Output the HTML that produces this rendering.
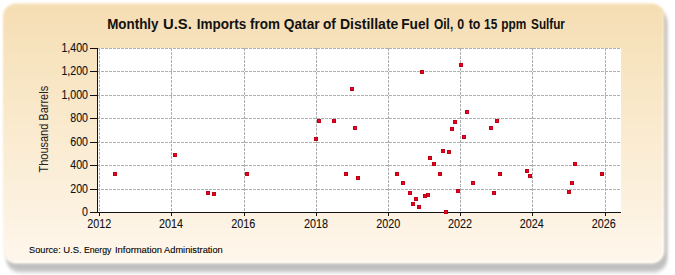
<!DOCTYPE html>
<html><head><meta charset="utf-8"><style>
html,body{margin:0;padding:0;background:#fff;width:675px;height:275px;overflow:hidden}
svg{display:block}
.g{stroke:#b0b0b0;stroke-width:1;stroke-dasharray:3 1;shape-rendering:crispEdges}
.a{stroke:#111;stroke-width:1;shape-rendering:crispEdges}
.t{font-family:"Liberation Sans",sans-serif;font-size:12px;fill:#111;stroke:#111;stroke-width:0.1}
.m{fill:#c00014}
.mi{fill:#ea0020}
.so{font-family:"Liberation Sans",sans-serif;font-size:9.2px;fill:#000;stroke:#000;stroke-width:0.1}
.ti{font-family:"Liberation Sans",sans-serif;font-size:13.333px;font-weight:bold;fill:#111}
</style></head><body>
<svg width="675" height="275">
<defs>
<linearGradient id="bg" x1="0" y1="0" x2="0" y2="1">
<stop offset="0" stop-color="#f5deb3"/>
<stop offset="1" stop-color="#fff7ec"/>
</linearGradient>
<filter id="sh" x="-5%" y="-5%" width="110%" height="115%"><feGaussianBlur stdDeviation="1.4 2.3"/></filter>
<filter id="pb" x="-1%" y="-1%" width="102%" height="102%"><feGaussianBlur stdDeviation="0.9"/></filter>
<linearGradient id="hl" gradientUnits="userSpaceOnUse" x1="0" y1="0" x2="0" y2="275"><stop offset="0" stop-color="#fff" stop-opacity="0.15"/><stop offset="1" stop-color="#fff" stop-opacity="0.6"/></linearGradient>
</defs>
<rect x="6" y="9" width="661.5" height="263" rx="14" fill="#c0c0c0" filter="url(#sh)"/>
<rect x="3" y="3.5" width="661.5" height="260" rx="13" fill="url(#bg)" filter="url(#pb)"/>
<path d="M662.5 12 L662.5 250 A12 12 0 0 1 650.5 262 L14 262" fill="none" stroke="url(#hl)" stroke-width="1.6"/>
<rect x="98" y="48" width="523" height="164" fill="#fff"/>
<text transform="translate(107.20,28.7) scale(1.005,1.05)" class="ti">Monthly</text>
<text transform="translate(162.91,28.7) scale(1.114,1.05)" class="ti">U.S.</text>
<text transform="translate(196.79,28.7) scale(1.014,1.05)" class="ti">Imports</text>
<text transform="translate(249.96,28.7) scale(1.012,1.05)" class="ti">from</text>
<text transform="translate(283.75,28.7) scale(1.032,1.05)" class="ti">Qatar</text>
<text transform="translate(322.96,28.7) scale(1.019,1.05)" class="ti">of</text>
<text transform="translate(339.95,28.7) scale(1.051,1.05)" class="ti">Distillate</text>
<text transform="translate(401.17,28.7) scale(1.029,1.05)" class="ti">Fuel</text>
<text transform="translate(434.02,28.7) scale(0.894,1.05)" class="ti">Oil,</text>
<text transform="translate(457.30,28.7) scale(0.932,1.05)" class="ti">0</text>
<text transform="translate(468.65,28.7) scale(0.924,1.05)" class="ti">to</text>
<text transform="translate(484.06,28.7) scale(0.890,1.05)" class="ti">15</text>
<text transform="translate(501.33,28.7) scale(0.892,1.05)" class="ti">ppm</text>
<text transform="translate(531.05,28.7) scale(0.881,1.05)" class="ti">Sulfur</text>
<text transform="translate(48.1,129.2) rotate(-90) scale(0.915,1)" text-anchor="middle" class="t" style="stroke:none;fill:#222">Thousand Barrels</text>
<text transform="translate(29.09,253) scale(0.998,1.0)" class="so">Source:</text>
<text transform="translate(63.16,253) scale(1.033,1.0)" class="so">U.S.</text>
<text transform="translate(83.88,253) scale(0.945,1.0)" class="so">Energy</text>
<text transform="translate(114.93,253) scale(1.025,1.0)" class="so">Information</text>
<text transform="translate(164.08,253) scale(1.008,1.0)" class="so">Administration</text>
<line x1="99.5" y1="48" x2="99.5" y2="212" class="g"/>
<line x1="171.5" y1="48" x2="171.5" y2="212" class="g"/>
<line x1="244.5" y1="48" x2="244.5" y2="212" class="g"/>
<line x1="316.5" y1="48" x2="316.5" y2="212" class="g"/>
<line x1="388.5" y1="48" x2="388.5" y2="212" class="g"/>
<line x1="460.5" y1="48" x2="460.5" y2="212" class="g"/>
<line x1="532.5" y1="48" x2="532.5" y2="212" class="g"/>
<line x1="605.5" y1="48" x2="605.5" y2="212" class="g"/>
<line x1="97" y1="48.5" x2="621" y2="48.5" class="g"/>
<line x1="97" y1="71.5" x2="621" y2="71.5" class="g"/>
<line x1="97" y1="95.5" x2="621" y2="95.5" class="g"/>
<line x1="97" y1="118.5" x2="621" y2="118.5" class="g"/>
<line x1="97" y1="142.5" x2="621" y2="142.5" class="g"/>
<line x1="97" y1="165.5" x2="621" y2="165.5" class="g"/>
<line x1="97" y1="189.5" x2="621" y2="189.5" class="g"/>
<line x1="97.5" y1="48" x2="97.5" y2="213" class="a"/>
<line x1="97" y1="212.5" x2="621" y2="212.5" class="a"/>
<line x1="90" y1="48.5" x2="97" y2="48.5" class="a"/>
<line x1="90" y1="71.5" x2="97" y2="71.5" class="a"/>
<line x1="90" y1="95.5" x2="97" y2="95.5" class="a"/>
<line x1="90" y1="118.5" x2="97" y2="118.5" class="a"/>
<line x1="90" y1="142.5" x2="97" y2="142.5" class="a"/>
<line x1="90" y1="165.5" x2="97" y2="165.5" class="a"/>
<line x1="90" y1="189.5" x2="97" y2="189.5" class="a"/>
<line x1="90" y1="212.5" x2="97" y2="212.5" class="a"/>
<line x1="99.5" y1="213" x2="99.5" y2="216" class="a"/>
<line x1="171.5" y1="213" x2="171.5" y2="216" class="a"/>
<line x1="244.5" y1="213" x2="244.5" y2="216" class="a"/>
<line x1="316.5" y1="213" x2="316.5" y2="216" class="a"/>
<line x1="388.5" y1="213" x2="388.5" y2="216" class="a"/>
<line x1="460.5" y1="213" x2="460.5" y2="216" class="a"/>
<line x1="532.5" y1="213" x2="532.5" y2="216" class="a"/>
<line x1="605.5" y1="213" x2="605.5" y2="216" class="a"/>
<text transform="translate(88.0,52.4) scale(0.885,1)" text-anchor="end" class="t">1,400</text>
<text transform="translate(88.0,75.4) scale(0.885,1)" text-anchor="end" class="t">1,200</text>
<text transform="translate(88.0,99.4) scale(0.885,1)" text-anchor="end" class="t">1,000</text>
<text transform="translate(88.0,122.4) scale(0.885,1)" text-anchor="end" class="t">800</text>
<text transform="translate(88.0,146.4) scale(0.885,1)" text-anchor="end" class="t">600</text>
<text transform="translate(88.0,169.4) scale(0.885,1)" text-anchor="end" class="t">400</text>
<text transform="translate(88.0,193.4) scale(0.885,1)" text-anchor="end" class="t">200</text>
<text transform="translate(88.0,216.4) scale(0.885,1)" text-anchor="end" class="t">0</text>
<text transform="translate(99.20,227.5) scale(0.9,1)" text-anchor="middle" class="t">2012</text>
<text transform="translate(171.05,227.5) scale(0.9,1)" text-anchor="middle" class="t">2014</text>
<text transform="translate(243.15,227.5) scale(0.9,1)" text-anchor="middle" class="t">2016</text>
<text transform="translate(316.05,227.5) scale(0.9,1)" text-anchor="middle" class="t">2018</text>
<text transform="translate(388.25,227.5) scale(0.9,1)" text-anchor="middle" class="t">2020</text>
<text transform="translate(460.00,227.5) scale(0.9,1)" text-anchor="middle" class="t">2022</text>
<text transform="translate(531.85,227.5) scale(0.9,1)" text-anchor="middle" class="t">2024</text>
<text transform="translate(603.65,227.5) scale(0.9,1)" text-anchor="middle" class="t">2026</text>
<rect x="113" y="172" width="4" height="4" class="m"/><rect x="114" y="173" width="2" height="2" class="mi"/>
<rect x="173" y="153" width="4" height="4" class="m"/><rect x="174" y="154" width="2" height="2" class="mi"/>
<rect x="206" y="191" width="4" height="4" class="m"/><rect x="207" y="192" width="2" height="2" class="mi"/>
<rect x="212" y="192" width="4" height="4" class="m"/><rect x="213" y="193" width="2" height="2" class="mi"/>
<rect x="245" y="172" width="4" height="4" class="m"/><rect x="246" y="173" width="2" height="2" class="mi"/>
<rect x="317" y="119" width="4" height="4" class="m"/><rect x="318" y="120" width="2" height="2" class="mi"/>
<rect x="332" y="119" width="4" height="4" class="m"/><rect x="333" y="120" width="2" height="2" class="mi"/>
<rect x="314" y="137" width="4" height="4" class="m"/><rect x="315" y="138" width="2" height="2" class="mi"/>
<rect x="350" y="87" width="4" height="4" class="m"/><rect x="351" y="88" width="2" height="2" class="mi"/>
<rect x="353" y="126" width="4" height="4" class="m"/><rect x="354" y="127" width="2" height="2" class="mi"/>
<rect x="344" y="172" width="4" height="4" class="m"/><rect x="345" y="173" width="2" height="2" class="mi"/>
<rect x="356" y="176" width="4" height="4" class="m"/><rect x="357" y="177" width="2" height="2" class="mi"/>
<rect x="395" y="172" width="4" height="4" class="m"/><rect x="396" y="173" width="2" height="2" class="mi"/>
<rect x="401" y="181" width="4" height="4" class="m"/><rect x="402" y="182" width="2" height="2" class="mi"/>
<rect x="408" y="191" width="4" height="4" class="m"/><rect x="409" y="192" width="2" height="2" class="mi"/>
<rect x="414" y="197" width="4" height="4" class="m"/><rect x="415" y="198" width="2" height="2" class="mi"/>
<rect x="411" y="202" width="4" height="4" class="m"/><rect x="412" y="203" width="2" height="2" class="mi"/>
<rect x="417" y="205" width="4" height="4" class="m"/><rect x="418" y="206" width="2" height="2" class="mi"/>
<rect x="423" y="194" width="4" height="4" class="m"/><rect x="424" y="195" width="2" height="2" class="mi"/>
<rect x="426" y="193" width="4" height="4" class="m"/><rect x="427" y="194" width="2" height="2" class="mi"/>
<rect x="428" y="156" width="4" height="4" class="m"/><rect x="429" y="157" width="2" height="2" class="mi"/>
<rect x="432" y="162" width="4" height="4" class="m"/><rect x="433" y="163" width="2" height="2" class="mi"/>
<rect x="438" y="172" width="4" height="4" class="m"/><rect x="439" y="173" width="2" height="2" class="mi"/>
<rect x="441" y="149" width="4" height="4" class="m"/><rect x="442" y="150" width="2" height="2" class="mi"/>
<rect x="447" y="150" width="4" height="4" class="m"/><rect x="448" y="151" width="2" height="2" class="mi"/>
<rect x="444" y="210" width="4" height="4" class="m"/><rect x="445" y="211" width="2" height="2" class="mi"/>
<rect x="456" y="189" width="4" height="4" class="m"/><rect x="457" y="190" width="2" height="2" class="mi"/>
<rect x="471" y="181" width="4" height="4" class="m"/><rect x="472" y="182" width="2" height="2" class="mi"/>
<rect x="465" y="110" width="4" height="4" class="m"/><rect x="466" y="111" width="2" height="2" class="mi"/>
<rect x="453" y="120" width="4" height="4" class="m"/><rect x="454" y="121" width="2" height="2" class="mi"/>
<rect x="450" y="127" width="4" height="4" class="m"/><rect x="451" y="128" width="2" height="2" class="mi"/>
<rect x="462" y="135" width="4" height="4" class="m"/><rect x="463" y="136" width="2" height="2" class="mi"/>
<rect x="459" y="63" width="4" height="4" class="m"/><rect x="460" y="64" width="2" height="2" class="mi"/>
<rect x="420" y="70" width="4" height="4" class="m"/><rect x="421" y="71" width="2" height="2" class="mi"/>
<rect x="495" y="119" width="4" height="4" class="m"/><rect x="496" y="120" width="2" height="2" class="mi"/>
<rect x="489" y="126" width="4" height="4" class="m"/><rect x="490" y="127" width="2" height="2" class="mi"/>
<rect x="498" y="172" width="4" height="4" class="m"/><rect x="499" y="173" width="2" height="2" class="mi"/>
<rect x="492" y="191" width="4" height="4" class="m"/><rect x="493" y="192" width="2" height="2" class="mi"/>
<rect x="525" y="169" width="4" height="4" class="m"/><rect x="526" y="170" width="2" height="2" class="mi"/>
<rect x="528" y="174" width="4" height="4" class="m"/><rect x="529" y="175" width="2" height="2" class="mi"/>
<rect x="573" y="162" width="4" height="4" class="m"/><rect x="574" y="163" width="2" height="2" class="mi"/>
<rect x="600" y="172" width="4" height="4" class="m"/><rect x="601" y="173" width="2" height="2" class="mi"/>
<rect x="570" y="181" width="4" height="4" class="m"/><rect x="571" y="182" width="2" height="2" class="mi"/>
<rect x="567" y="190" width="4" height="4" class="m"/><rect x="568" y="191" width="2" height="2" class="mi"/>
</svg>
</body></html>
